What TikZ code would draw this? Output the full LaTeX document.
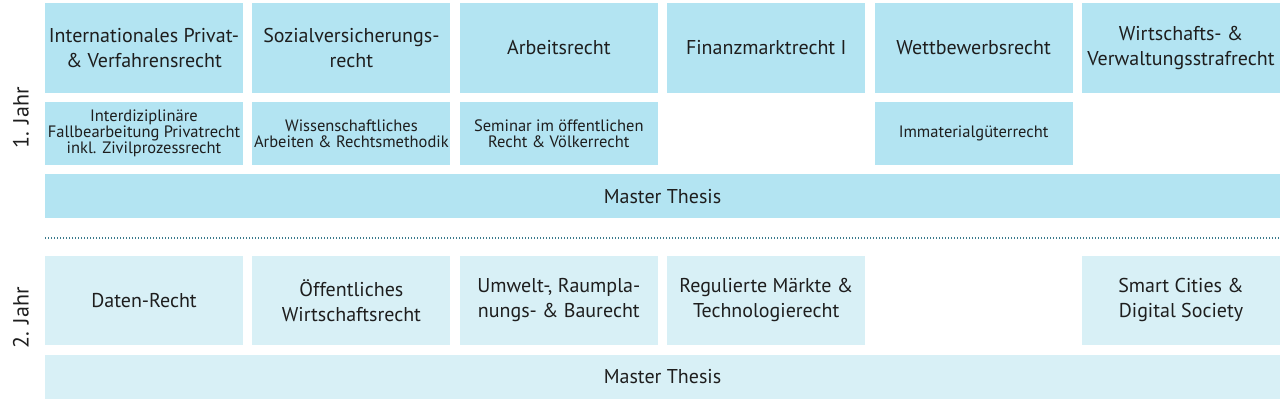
\documentclass[tikz,border=0pt]{standalone}
\usepackage{fontspec}
\setmainfont{PT Sans}
\definecolor{yonefill}{HTML}{B3E4F2}
\definecolor{ytwofill}{HTML}{D8F0F6}
\definecolor{txt}{HTML}{1E1E1E}
\definecolor{dotc}{HTML}{3A7A8C}
\begin{document}
\begin{tikzpicture}[x=1pt,y=-1pt,
  cell/.style={inner sep=0pt, outer sep=0pt, align=center, text=txt, minimum width=198pt},
  big/.style={cell, font=\fontsize{20}{25}\selectfont},
  small/.style={cell, font=\fontsize{16.5}{16}\selectfont},
  yone/.style={fill=yonefill},
  ytwo/.style={fill=ytwofill},
  rowa/.style={minimum height=90pt},
  rowb/.style={minimum height=63pt},
  rowm/.style={minimum height=44pt, minimum width=1235pt},
  rowc/.style={minimum height=89pt},
  yearlbl/.style={rotate=90, text=txt, font=\fontsize{22}{24}\selectfont, inner sep=0pt}
]
\useasboundingbox (0,0) rectangle (1280,403);
% Year 1, row 1
\node[big,yone,rowa] (a1) at (144,48) {Internationales Privat-\\\& Verfahrensrecht};
\node[big,yone,rowa] (a2) at (351.4,48) {Sozialversicherungs-\\recht};
\node[big,yone,rowa] (a3) at (558.8,48) {Arbeitsrecht};
\node[big,yone,rowa] (a4) at (766.2,48) {Finanzmarktrecht I};
\node[big,yone,rowa] (a5) at (973.6,48) {Wettbewerbsrecht};
\node[big,yone,rowa] (a6) at (1181,48) {Wirtschafts- \&\\Verwaltungsstrafrecht};
% Year 1, row 2
\node[small,yone,rowb] (b1) at (144,133.5) {Interdiziplinäre\\Fallbearbeitung Privatrecht\\inkl. Zivilprozessrecht};
\node[small,yone,rowb] (b2) at (351.4,133.5) {Wissenschaftliches\\Arbeiten \& Rechtsmethodik};
\node[small,yone,rowb] (b3) at (558.8,133.5) {Seminar im öffentlichen\\Recht \& Völkerrecht};
\node[small,yone,rowb] (b5) at (973.6,133.5) {Immaterialgüterrecht};
% Master thesis year 1
\node[big,yone,rowm] (m1) at (662.5,196.5) {Master Thesis};
% divider
\coordinate (dl) at (45,238);
\coordinate (dr) at (1280,238);
\draw[dotc, line width=1.3pt, dash pattern=on 1.3pt off 1.7pt] (dl) -- (dr);
% Year 2
\node[big,ytwo,rowc] (c1) at (144,300.5) {Daten-Recht};
\node[big,ytwo,rowc] (c2) at (351.4,300.5) {Öffentliches\\Wirtschaftsrecht};
\node[big,ytwo,rowc] (c3) at (558.8,300.5) {Umwelt-, Raumpla-\\nungs- \& Baurecht};
\node[big,ytwo,rowc] (c4) at (766.2,300.5) {Regulierte Märkte \&\\Technologierecht};
\node[big,ytwo,rowc] (c6) at (1181,300.5) {Smart Cities \&\\Digital Society};
\node[big,ytwo,rowm] (m2) at (662.5,377) {Master Thesis};
% year labels
\node[yearlbl] (j1) at (21,118) {1. Jahr};
\node[yearlbl] (j2) at (21,318) {2. Jahr};
\end{tikzpicture}
\end{document}
